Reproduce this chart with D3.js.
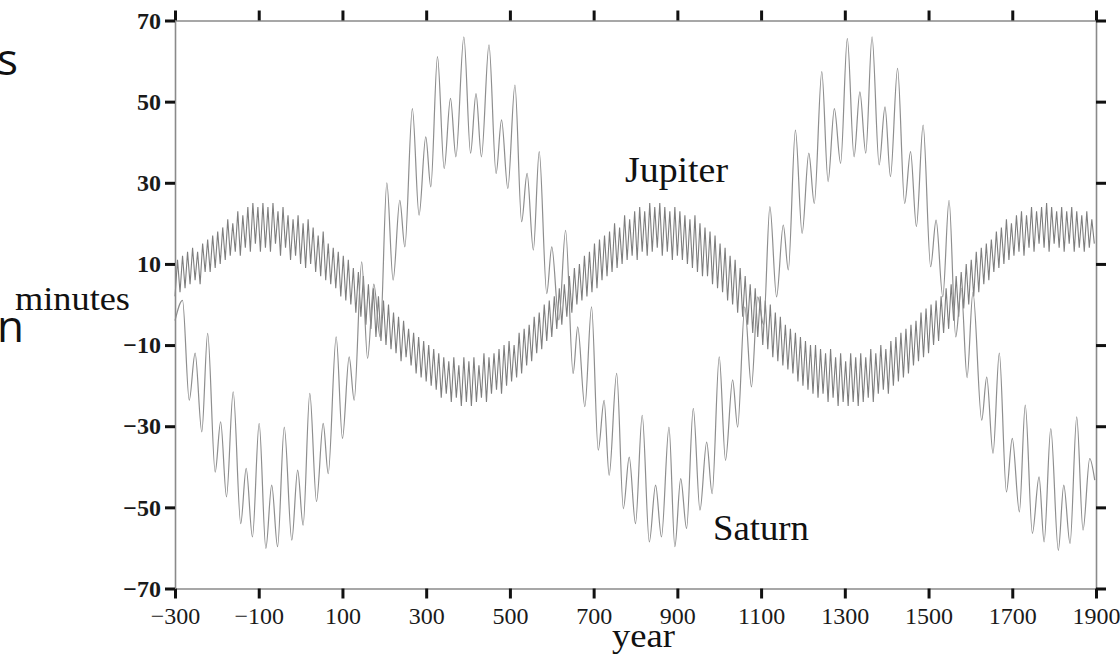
<!DOCTYPE html>
<html>
<head>
<meta charset="utf-8">
<script src="https://cdn.jsdelivr.net/npm/d3@7"></script>
<style>
  body { margin: 0; background: #fff; }
  svg { display: block; }
</style>
</head>
<body>
<svg id="chart" width="1120" height="656"></svg>
<script>
// axis ticks
const xTicks = [-300, -100, 100, 300, 500, 700, 900, 1100, 1300, 1500, 1700, 1900];
const yTicks = [-70, -50, -30, -10, 10, 30, 50, 70];

// Saturn: local maxima / minima [year, minutes]
const saturnPoints = [
  [-300,-4],[-282,1],[-266,-23.6],[-252,-12],[-236,-31.4],[-222,-7.1],[-204,-41.3],[-191,-28.9],
  [-177,-47.4],[-161,-21.5],[-143,-54],[-130,-40.4],[-115,-57.3],[-99,-29.3],[-83,-60.1],[-69,-44.5],
  [-55,-59.7],[-39,-30.2],[-21,-58.1],[-7,-40.8],[6,-54.4],[22,-21.9],[38,-48.6],[54,-29.3],
  [66,-41.7],[85,-8],[100,-33],[116,-12.9],[128,-23.6],[146,10.5],[160,-13.3],[175,5],
  [190,-8],[206,30],[221,6],[237,25.7],[249,14.2],[267,48.3],[283,22],[299,41.3],
  [311,29],[327,61.1],[343,33.5],[358,50.8],[371,36.4],[390,66],[406,37.3],[419,52],
  [432,36.4],[450,64],[467,32.3],[480,45.5],[495,28.6],[512,54.1],[528,20.4],[541,32.3],
  [556,13.4],[570,37.7],[588,2.7],[600,14.2],[617,-3.8],[633,18.3],[651,-17],[662,-5.5],
  [679,-25.2],[695,-0.6],[711,-35.9],[725,-23.6],[737,-42.1],[755,-17],[771,-50.3],[785,-37.6],
  [800,-54],[816,-27.3],[833,-58.5],[848,-44.5],[862,-57.3],[880,-30.2],[894,-59.7],[908,-42.9],
  [922,-55.2],[938,-25.6],[954,-50.7],[970,-33.9],[983,-46.6],[1000,-12.9],[1015,-38.4],[1032,-18.6],
  [1044,-30.2],[1061,-0.6],[1077,-20.3],[1092,1.9],[1106,-5],[1121,24.1],[1137,1.9],[1153,19.6],
  [1165,8.5],[1182,43],[1198,17.5],[1214,37.3],[1227,24.9],[1245,57.4],[1260,30.3],[1275,48.3],
  [1290,34.8],[1306,65.6],[1322,36.4],[1336,52.4],[1350,37.3],[1365,66],[1382,34.4],[1396,48.7],
  [1409,31.5],[1426,58.2],[1443,24.9],[1457,37.7],[1471,19.2],[1487,44.2],[1505,9.3],[1518,20.8],
  [1534,1.9],[1549,25.7],[1565,-8],[1578,4],[1592,-18],[1606,3],[1627,-28.5],[1639,-17.9],
  [1654,-36.7],[1669,-12],[1686,-46.2],[1700,-33],[1717,-51.1],[1731,-24.8],[1748,-56.4],[1764,-42.5],
  [1776,-58.5],[1792,-30.6],[1810,-60.6],[1823,-44.5],[1838,-58.9],[1854,-27.7],[1869,-55.6],[1885,-38],
  [1897,-43.3]
];

// Jupiter: dense zigzag, one reading every 6 years from -300
const jupiterFirstYear = -300;
const jupiterStep = 6;
const jupiterValues = [
  2,11,3,12,4,13,5,14,6,13,5,15,8,16,8,17,9,
  18,10,19,11,21,12,20,13,23,12,22,14,24,13,25,15,24,
  13,25,14,24,13,25,15,23,12,24,14,22,11,21,12,22,10,
  20,9,21,10,19,8,17,7,18,6,15,5,14,4,13,2,12,
  1,11,0,9,-2,8,-3,7,-5,5,-6,4,-8,2,-9,1,-10,
  0,-11,-2,-12,-3,-14,-4,-13,-6,-15,-7,-17,-8,-18,-9,-19,-10,
  -20,-11,-21,-12,-23,-13,-22,-14,-24,-13,-23,-15,-25,-13,-24,-14,-25,
  -13,-24,-15,-23,-12,-24,-13,-22,-12,-21,-11,-22,-10,-20,-9,-19,-10,
  -18,-7,-17,-6,-15,-5,-14,-3,-12,-2,-11,0,-9,1,-8,2,-6,
  4,-5,5,-3,7,-2,9,0,10,1,12,2,13,3,15,4,16,
  6,17,7,18,8,20,9,19,10,22,11,21,12,23,11,24,13,
  23,12,25,13,24,14,25,12,24,13,23,11,24,12,23,11,22,
  10,21,9,22,8,20,7,19,7,18,5,17,4,15,3,14,1,
  12,0,11,-2,9,-3,7,-5,5,-7,4,-8,2,-10,1,-11,0,
  -13,-2,-14,-3,-15,-5,-16,-6,-17,-7,-19,-8,-20,-9,-21,-10,-22,
  -10,-23,-11,-22,-12,-24,-11,-23,-13,-25,-12,-24,-14,-25,-12,-24,-13,
  -25,-12,-24,-13,-23,-11,-24,-12,-22,-10,-21,-11,-22,-9,-20,-8,-19,
  -7,-18,-6,-17,-5,-15,-4,-14,-2,-13,-1,-12,0,-10,1,-9,2,
  -7,4,-6,5,-4,7,-3,8,-1,10,0,11,2,13,3,14,5,
  15,6,16,8,18,9,19,10,21,11,20,12,22,13,23,12,22,
  14,24,13,23,15,24,14,25,13,24,15,23,14,24,13,23,15,
  24,13,23,14,22,13,23,14,21,15
];

const plotLeft = 175, plotRight = 1096, plotTop = 20.5, plotBottom = 588.5;

const svg = d3.select("#chart");

const x = d3.scaleLinear().domain([-300, 1900]).range([plotLeft, plotRight]);
const y = d3.scaleLinear().domain([-70, 70]).range([plotBottom, plotTop]);

const serif = "'Liberation Serif', 'Times New Roman', serif";

// curves
const jupiterData = jupiterValues.map((v, i) => [jupiterFirstYear + i * jupiterStep, v]);

const line = d3.line()
    .x(d => x(d[0]))
    .y(d => y(d[1]));

svg.append("path")
    .datum(jupiterData)
    .attr("fill", "none")
    .attr("stroke", "#7e7e7e")
    .attr("stroke-width", 1.1)
    .attr("d", line.curve(d3.curveLinear));

svg.append("path")
    .datum(saturnPoints)
    .attr("fill", "none")
    .attr("stroke", "#8e8e8e")
    .attr("stroke-width", 1.2)
    .attr("d", line.curve(d3.curveMonotoneX));

// axes on all four sides
function styleAxis(g, bold) {
    g.select(".domain").attr("stroke", "#8a8a8a").attr("stroke-width", 1.6);
    g.selectAll(".tick line").attr("stroke", "#111").attr("stroke-width", 3);
    g.selectAll(".tick text")
        .attr("fill", "#1a1a1a")
        .style("font-family", serif)
        .style("font-size", "24px")
        .style("font-weight", bold ? "bold" : "normal");
}

svg.append("g")
    .attr("transform", `translate(0,${plotBottom})`)
    .call(d3.axisBottom(x).tickValues(xTicks).tickSize(10).tickSizeOuter(0).tickPadding(8).tickFormat(d3.format("d")))
    .call(g => styleAxis(g, false));

svg.append("g")
    .attr("transform", `translate(0,${plotTop})`)
    .call(d3.axisTop(x).tickValues(xTicks).tickSize(10).tickSizeOuter(0).tickFormat(""))
    .call(g => styleAxis(g, false));

svg.append("g")
    .attr("transform", `translate(${plotLeft},0)`)
    .call(d3.axisLeft(y).tickValues(yTicks).tickSize(10).tickSizeOuter(0).tickPadding(4).tickFormat(d3.format("d")))
    .call(g => styleAxis(g, true));

svg.append("g")
    .attr("transform", `translate(${plotRight},0)`)
    .call(d3.axisRight(y).tickValues(yTicks).tickSize(10).tickSizeOuter(0).tickFormat(""))
    .call(g => styleAxis(g, false));

// labels
function label(text, px, py, size, len) {
    svg.append("text")
        .attr("x", px)
        .attr("y", py)
        .attr("textLength", len)
        .attr("lengthAdjust", "spacingAndGlyphs")
        .attr("fill", "#111")
        .style("font-family", serif)
        .style("font-size", size + "px")
        .text(text);
}

label("Jupiter", 625, 182, 35, 103);
label("Saturn", 713, 540, 35, 96);
label("minutes", 15, 310, 34, 115);
label("year", 612, 647, 33, 63);

// fragments of the surrounding slide text, cut by the crop
svg.append("text")
    .attr("x", 18).attr("y", 75)
    .attr("text-anchor", "end")
    .style("font-family", "'Open Sans', 'Noto Sans', sans-serif")
    .style("font-size", "44px")
    .attr("fill", "#111")
    .text("s");

svg.append("text")
    .attr("x", 24).attr("y", 342)
    .attr("text-anchor", "end")
    .style("font-family", "'Open Sans', 'Noto Sans', sans-serif")
    .style("font-size", "44px")
    .attr("fill", "#111")
    .text("n");
</script>
</body>
</html>
